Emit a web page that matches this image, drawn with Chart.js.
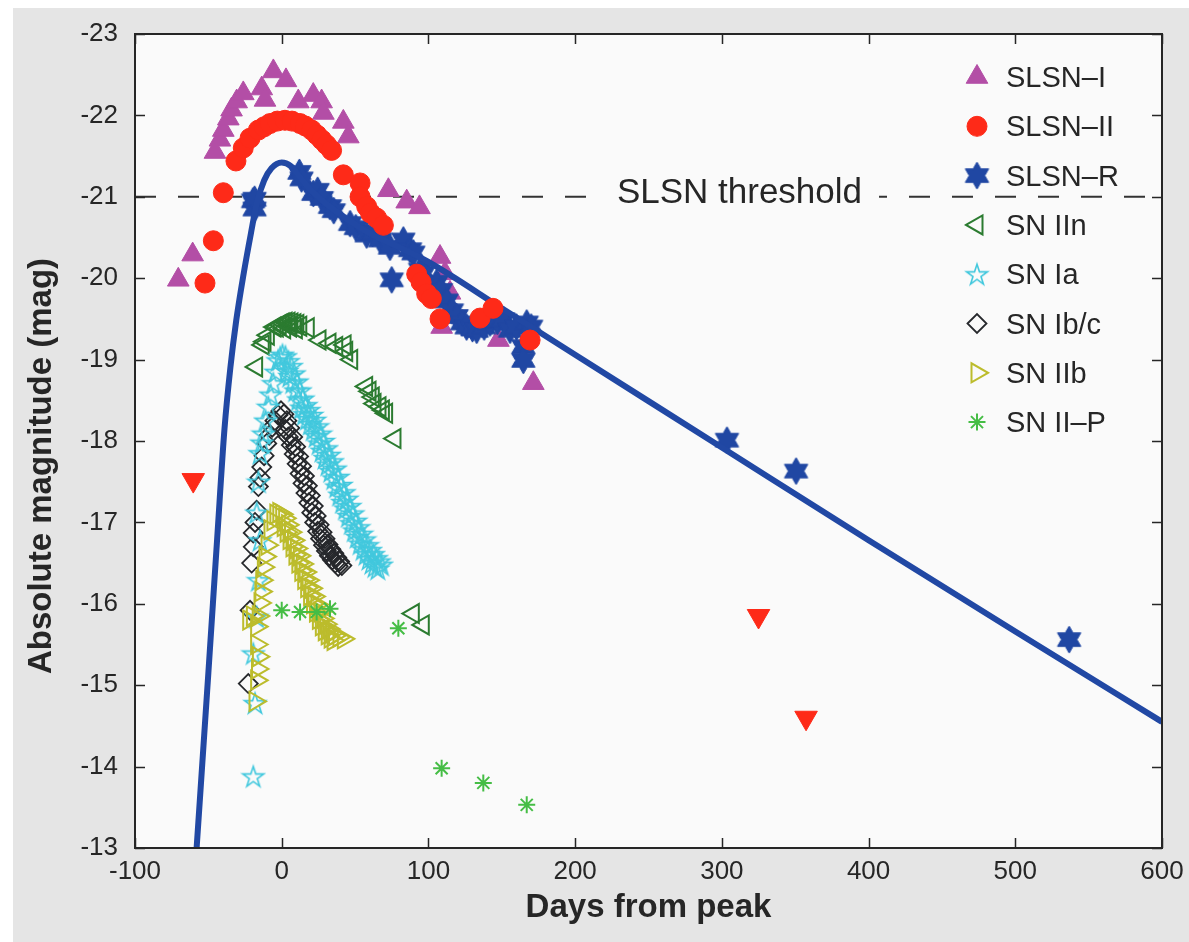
<!DOCTYPE html>
<html>
<head>
<meta charset="utf-8">
<script src="https://cdn.jsdelivr.net/npm/chart.js"></script>
<style>
  html, body { margin: 0; padding: 0; background: #ffffff; }
  #wrap { position: absolute; left: 13px; top: 8px; width: 1176px; height: 934px; background: #e5e5e5; }
  canvas { display: block; }
</style>
</head>
<body>
<div id="wrap"><canvas id="chart" width="1176" height="934"></canvas></div>
<script>
// axis ranges
const xMin = -100, xMax = 600, xStep = 100;
const yMin = -23, yMax = -13, yStep = 1;
const xTitle = 'Days from peak';
const yTitle = 'Absolute magnitude (mag)';

// SLSN-I (filled triangles)
const slsn1Days = [-70.5, -60.7, -45.5, -42.1, -39.8, -36.4, -34.2, -30.7, -26.2, -13.6, -11.4, -5.7, 2.9, 11.3,
  21.5, 27.2, 28.4, 42.0, 45.4, 72.7, 85.2, 93.9, 107.9, 109.0, 111.3, 114.7, 147.7, 171.5];
const slsn1Mags = [-19.98, -20.29, -21.55, -21.70, -21.82, -21.96, -22.07, -22.17, -22.27, -22.33, -22.19, -22.54, -22.43, -22.17,
  -22.25, -22.17, -22.03, -21.92, -21.74, -21.08, -20.94, -20.87, -20.26, -19.40, -20.06, -19.82, -19.24, -18.71];

// SLSN-II (filled circles)
const slsn2Days = [-52.3, -46.6, -39.8, -31.2, -26.2, -21.6, -15.9, -12.0, -8.0, -3.0, 2.2, 7.0, 12.5, 16.0, 20.4, 24.0,
  27.3, 30.5, 34.0, 42.0, 53.4, 53.4, 57.9, 60.5, 64.7, 69.3, 92.0, 95.0, 98.8, 102.0, 107.9, 135.2, 144.0, 169.3];
const slsn2Mags = [-19.94, -20.46, -21.05, -21.44, -21.60, -21.72, -21.82, -21.86, -21.90, -21.93, -21.94, -21.93, -21.90, -21.87, -21.82, -21.76,
  -21.70, -21.64, -21.57, -21.27, -21.17, -21.00, -20.88, -20.80, -20.74, -20.65, -20.05, -19.95, -19.81, -19.75, -19.50, -19.51, -19.63, -19.24];

// SLSN-II upper limits (down triangles)
const limitDays = [-60.3, 325.0, 357.4];
const limitMags = [-17.52, -15.85, -14.60];

// SLSN-R (filled hexagrams)
const slsnRDays = [-19.5, -18.5, -18.5, 12.0, 13.5, 21.5, 24.5, 27.3, 32.9, 35.5, 46.6, 50.5, 57.9, 62.0, 67.0, 73.8, 75.0,
  82.9, 87.5, 89.7, 94.3, 96.5, 105.6, 108.5, 112.4, 116.0, 119.2, 123.0, 126.0, 130.0, 132.9, 138.0, 142.0, 147.0,
  151.0, 155.6, 160.0, 164.7, 164.7, 167.0, 170.0, 303.5, 350.6, 536.7];
const slsnRMags = [-20.95, -20.85, -20.97, -21.30, -21.22, -21.04, -21.08, -20.98, -20.88, -20.83, -20.67, -20.62, -20.53, -20.55, -20.47, -20.38, -19.98,
  -20.47, -20.35, -20.31, -20.10, -20.06, -19.95, -19.85, -19.72, -19.60, -19.53, -19.45, -19.40, -19.38, -19.36, -19.40, -19.45, -19.47,
  -19.49, -19.36, -19.40, -19.16, -18.99, -19.45, -19.40, -18.01, -17.63, -15.56];

// SLSN-R model light curve (solid blue line)
const modelDays = [-58, -50, -44, -39, -35, -31, -26, -21, -17, -12, -7, 0, 6, 12, 20, 30, 45, 60, 80, 100, 150, 200, 300, 400, 500, 600];
const modelMags = [-13.0, -15.15, -16.8, -18.15, -18.9, -19.48, -20.05, -20.55, -20.92, -21.2, -21.35, -21.42, -21.38, -21.25, -21.08,
  -20.92, -20.72, -20.55, -20.38, -20.2, -19.63, -19.06, -17.92, -16.78, -15.66, -14.55];

// SN IIn (open left triangles)
const snIInDays = [-17.1, -12.6, -11.4, -9.1, -4.6, -3.0, -1.0, 1.0, 2.0, 3.0, 5.0, 6.0, 7.0, 9.0, 10.0, 11.0, 13.0, 18.1,
  26.1, 32.9, 37.5, 43.2, 44.3, 47.7, 57.9, 60.2, 62.4, 63.6, 67.0, 69.3, 71.5, 77.2, 89.7, 96.5];
const snIInMags = [-18.91, -19.18, -19.22, -19.30, -19.40, -19.40, -19.43, -19.45, -19.38, -19.46, -19.46, -19.40, -19.45, -19.44, -19.38, -19.43, -19.41, -19.39,
  -19.24, -19.20, -19.16, -19.18, -19.10, -19.00, -18.67, -18.61, -18.54, -18.46, -18.42, -18.38, -18.34, -18.03, -15.88, -15.74];

// SN Ia (open pentagrams)
const snIaDays = [-19.4, -18.2, -19.4, -17.1, -15.9, -14.8, -17.1, -15.9, -14.8, -13.6, -12.5, -11.0, -9.1, -7.5, -5.7, -4.0, -2.5, -1.0, 0.5,
  2.5, 4.5, 6.5, 8.5, 10.5, 12.5, 14.5, 16.5, 18.5, 20.5, 22.5, 24.5, 26.5, 28.5, 30.5, 32.5, 34.5, 36.5, 38.5, 40.5,
  42.5, 44.5, 46.5, 48.5, 50.5, 52.5, 54.5, 56.5, 58.5, 60.5, 62.5, 64.5, 66.5, 68.0,
  3.5, 5.5, 7.5, 9.5, 11.5, 13.5, 15.5, 17.5, 19.5, 21.5, 23.5, 25.5, 27.5, 29.5, 31.5, 33.5, 35.5, 37.5, 39.5, 41.5,
  43.5, 45.5, 47.5, 49.5, 51.5, 53.5, 55.5, 57.5, 59.5, 61.5, 63.5, 65.5];
const snIaMags = [-13.88, -14.78, -15.39, -15.84, -16.29, -16.78, -17.12, -17.50, -17.85, -17.98, -18.09, -18.25, -18.42, -18.57, -18.71, -18.85, -18.99, -19.03, -19.06,
  -19.04, -18.98, -18.92, -18.83, -18.73, -18.62, -18.52, -18.44, -18.38, -18.32, -18.26, -18.18, -18.09, -18.00, -17.91, -17.83, -17.75, -17.66, -17.56, -17.46,
  -17.37, -17.29, -17.20, -17.11, -17.02, -16.94, -16.86, -16.79, -16.72, -16.66, -16.61, -16.56, -16.52, -16.48,
  -18.86, -18.80, -18.72, -18.62, -18.51, -18.41, -18.33, -18.27, -18.21, -18.14, -18.06, -17.97, -17.88, -17.79, -17.71, -17.63, -17.54, -17.44, -17.34, -17.25,
  -17.17, -17.08, -16.99, -16.90, -16.82, -16.74, -16.67, -16.61, -16.55, -16.50, -16.46, -16.43];

// SN Ib/c (open diamonds)
const snIbcDays = [-22.8, -21.6, -20.5, -19.4, -19.4, -18.2, -17.1, -15.9, -14.8, -13.6, -12.0, -10.2, -8.5, -6.5, -4.6, -2.5, -0.5,
  1.5, 3.5, 5.5, 7.5, 9.5, 11.5, 13.5, 15.5, 17.5, 19.5, 21.5, 23.5, 25.5, 27.5, 29.5, 31.5, 33.5, 35.5, 37.5, 39.5, 41.0,
  2.5, 4.5, 6.5, 8.5, 10.5, 12.5, 14.5, 16.5, 18.5, 20.5, 22.5, 24.5, 26.5, 28.5, 30.5, 32.5, 34.5, 36.5, 38.5];
const snIbcMags = [-15.02, -15.92, -16.50, -16.70, -16.87, -17.00, -17.15, -17.44, -17.55, -17.68, -17.82, -17.97, -18.07, -18.17, -18.25, -18.32, -18.37,
  -18.33, -18.25, -18.16, -18.05, -17.93, -17.81, -17.69, -17.57, -17.45, -17.33, -17.20, -17.08, -16.97, -16.88, -16.80, -16.73, -16.67, -16.62, -16.57, -16.52, -16.47,
  -18.14, -18.05, -17.95, -17.84, -17.72, -17.60, -17.48, -17.36, -17.24, -17.12, -17.00, -16.89, -16.80, -16.72, -16.65, -16.59, -16.54, -16.50, -16.46];

// SN IIb (open right triangles)
const snIIbDays = [-22.5, -20.0, -18.2, -17.1, -16.5, -15.9, -17.1, -17.1, -16.0, -14.8, -14.2, -13.6, -12.5, -11.4, -10.0, -8.0, -6.0, -4.0,
  -2.0, 0.0, 2.0, 4.0, 6.0, 8.0, 10.0, 12.0, 14.0, 16.0, 18.0, 20.0, 22.0, 24.0, 26.0, 28.0, 30.0, 32.0, 34.0, 36.0, 39.0, 42.0,
  1.0, 3.0, 5.0, 7.0, 9.0, 11.0, 13.0, 15.0, 17.0, 19.0, 21.0, 23.0, 25.0, 27.0, 29.0, 31.0, 33.0, 35.0];
const snIIbMags = [-15.80, -15.85, -14.80, -15.06, -15.20, -15.35, -15.50, -15.72, -15.85, -16.01, -16.15, -16.29, -16.45, -16.58, -16.72, -16.91, -17.02, -17.10,
  -17.12, -17.10, -17.05, -16.97, -16.88, -16.78, -16.68, -16.59, -16.49, -16.39, -16.29, -16.19, -16.09, -15.99, -15.90, -15.82, -15.75, -15.69, -15.64, -15.61, -15.59, -15.57,
  -16.95, -16.88, -16.79, -16.70, -16.60, -16.50, -16.40, -16.30, -16.20, -16.10, -16.00, -15.90, -15.81, -15.73, -15.67, -15.62, -15.58, -15.55];

// SN II-P (asterisks)
const snIIPDays = [0.0, 12.5, 23.8, 32.9, 79.5, 109.0, 137.4, 167.0];
const snIIPMags = [-15.92, -15.90, -15.90, -15.94, -15.70, -13.98, -13.80, -13.53];

// SLSN threshold
const thresholdMag = -21;
const thresholdText = 'SLSN threshold';
const thresholdTextDay = 312;

const FONT = "'Liberation Sans', Arial, Helvetica, sans-serif";
const TEXT = '#262626';

function pts(days, mags) {
  return days.map((d, i) => ({ x: d, y: mags[i] }));
}

function hexagram(color, r) {
  const c = document.createElement('canvas');
  const s = Math.ceil(2 * r + 4);
  c.width = s; c.height = s;
  const g = c.getContext('2d');
  g.fillStyle = color;
  g.strokeStyle = color;
  g.lineWidth = 1;
  g.beginPath();
  for (let k = 0; k < 12; k++) {
    const a = -Math.PI / 2 + k * Math.PI / 6;
    const rr = k % 2 === 0 ? r : r / Math.sqrt(3);
    g.lineTo(s / 2 + rr * Math.cos(a), s / 2 + rr * Math.sin(a));
  }
  g.closePath();
  g.fill();
  g.stroke();
  return c;
}

function pentagram(color, r, lw) {
  const c = document.createElement('canvas');
  const s = Math.ceil(2 * r + 4);
  c.width = s; c.height = s;
  const g = c.getContext('2d');
  g.strokeStyle = color;
  g.lineWidth = lw;
  g.beginPath();
  for (let k = 0; k < 10; k++) {
    const a = -Math.PI / 2 + k * Math.PI / 5;
    const rr = k % 2 === 0 ? r : r * 0.382;
    g.lineTo(s / 2 + rr * Math.cos(a), s / 2 + 1 + rr * Math.sin(a));
  }
  g.closePath();
  g.stroke();
  return c;
}

const CLEAR = 'rgba(0,0,0,0)';

const datasets = [
  {
    label: 'SLSN\u2013I', data: pts(slsn1Days, slsn1Mags), order: 4,
    pointStyle: 'triangle', pointRadius: 12.5, pointRotation: 0,
    backgroundColor: '#b34ea6', borderColor: '#b34ea6', borderWidth: 1
  },
  {
    label: 'SLSN\u2013II', data: pts(slsn2Days, slsn2Mags), order: 1,
    pointStyle: 'circle', pointRadius: 10,
    backgroundColor: '#fe2a18', borderColor: '#fe2a18', borderWidth: 1
  },
  {
    label: 'SLSN\u2013R', data: pts(slsnRDays, slsnRMags), order: 3,
    pointStyle: hexagram('#2047a3', 13.5), pointRadius: 13,
    backgroundColor: '#2047a3', borderColor: '#2047a3', borderWidth: 1
  },
  {
    label: 'SN IIn', data: pts(snIInDays, snIInMags), order: 10,
    pointStyle: 'triangle', pointRotation: -90, pointRadius: 11,
    backgroundColor: CLEAR, borderColor: '#2b7b30', borderWidth: 2
  },
  {
    label: 'SN Ia', data: pts(snIaDays, snIaMags), order: 8,
    pointStyle: pentagram('#42c8dd', 11, 1.6), pointRadius: 11,
    backgroundColor: CLEAR, borderColor: '#42c8dd', borderWidth: 1.6
  },
  {
    label: 'SN Ib/c', data: pts(snIbcDays, snIbcMags), order: 9,
    pointStyle: 'rectRot', pointRadius: 9.5,
    backgroundColor: CLEAR, borderColor: '#26282c', borderWidth: 1.8
  },
  {
    label: 'SN IIb', data: pts(snIIbDays, snIIbMags), order: 7,
    pointStyle: 'triangle', pointRotation: 90, pointRadius: 11,
    backgroundColor: CLEAR, borderColor: '#bcbc2c', borderWidth: 2
  },
  {
    label: 'SN II\u2013P', data: pts(snIIPDays, snIIPMags), order: 6,
    pointStyle: 'star', pointRadius: 8.5,
    backgroundColor: CLEAR, borderColor: '#45bd45', borderWidth: 2
  },
  {
    label: 'model', inLegend: false, data: pts(modelDays, modelMags), order: 2,
    showLine: true, pointRadius: 0, borderColor: '#2148a4', borderWidth: 6,
    cubicInterpolationMode: 'monotone', fill: false
  },
  {
    label: 'limits', inLegend: false, data: pts(limitDays, limitMags), order: 5,
    pointStyle: 'triangle', pointRotation: 180, pointRadius: 13,
    backgroundColor: '#fe2a18', borderColor: '#fe2a18', borderWidth: 1
  },
  {
    label: 'threshold', inLegend: false, data: [{ x: xMin, y: thresholdMag }, { x: xMax, y: thresholdMag }], order: 11,
    showLine: true, pointRadius: 0, borderColor: '#333333', borderWidth: 2, borderDash: [21, 22], fill: false
  }
];

// plot background, frame with inward ticks, y title, threshold label and legend
const matlabLook = {
  id: 'matlabLook',
  beforeDraw(chart) {
    const { ctx, chartArea: a } = chart;
    ctx.save();
    ctx.fillStyle = '#fafafa';
    ctx.fillRect(a.left, a.top, a.right - a.left, a.bottom - a.top);
    ctx.restore();
  },
  afterDatasetsDraw(chart) {
    const { ctx, scales } = chart;
    // threshold label over the dashed line
    ctx.save();
    ctx.font = '35px ' + FONT;
    const tx = scales.x.getPixelForValue(thresholdTextDay);
    const ty = scales.y.getPixelForValue(thresholdMag);
    const tw = ctx.measureText(thresholdText).width;
    ctx.fillStyle = '#fafafa';
    ctx.fillRect(tx - tw / 2 - 17, ty - 6, tw + 34, 12);
    ctx.fillStyle = TEXT;
    ctx.textAlign = 'center';
    ctx.textBaseline = 'middle';
    ctx.fillText(thresholdText, tx, ty - 3);
    ctx.restore();

    // legend
    const a = chart.chartArea;
    const mx = a.right - 185, lx = a.right - 156;
    let ly = a.top + 43;
    chart.data.datasets.forEach((ds) => {
      if (ds.inLegend === false) return;
      ctx.save();
      ctx.fillStyle = ds.backgroundColor;
      ctx.strokeStyle = ds.borderColor;
      ctx.lineWidth = ds.borderWidth;
      Chart.helpers.drawPoint(ctx, {
        pointStyle: ds.pointStyle, rotation: ds.pointRotation || 0,
        radius: ds.pointRadius, borderWidth: ds.borderWidth
      }, mx, ly);
      ctx.fillStyle = TEXT;
      ctx.font = '29px ' + FONT;
      ctx.textAlign = 'left';
      ctx.textBaseline = 'middle';
      ctx.fillText(ds.label, lx, ly + 2);
      ctx.restore();
      ly += 49.3;
    });
  },
  afterDraw(chart) {
    const { ctx, chartArea: a, scales } = chart;
    const tl = 10;
    ctx.save();
    ctx.strokeStyle = TEXT;
    ctx.lineWidth = 1.5;
    ctx.beginPath();
    scales.x.ticks.forEach((t) => {
      const px = Math.round(scales.x.getPixelForValue(t.value)) + 0.5;
      ctx.moveTo(px, a.bottom); ctx.lineTo(px, a.bottom - tl);
      ctx.moveTo(px, a.top); ctx.lineTo(px, a.top + tl);
    });
    scales.y.ticks.forEach((t) => {
      const py = Math.round(scales.y.getPixelForValue(t.value)) + 0.5;
      ctx.moveTo(a.left, py); ctx.lineTo(a.left + tl, py);
      ctx.moveTo(a.right, py); ctx.lineTo(a.right - tl, py);
    });
    ctx.stroke();
    ctx.lineWidth = 2;
    ctx.strokeRect(a.left, a.top, a.right - a.left, a.bottom - a.top);

    // y axis title, rotated
    ctx.translate(29, (a.top + a.bottom) / 2 + 25);
    ctx.rotate(-Math.PI / 2);
    ctx.fillStyle = TEXT;
    ctx.font = 'bold 33px ' + FONT;
    ctx.textAlign = 'center';
    ctx.textBaseline = 'middle';
    ctx.fillText(yTitle, 0, 0);
    ctx.restore();
  }
};

new Chart(document.getElementById('chart'), {
  type: 'scatter',
  data: { datasets: datasets },
  options: {
    responsive: false,
    animation: false,
    devicePixelRatio: 1,
    events: [],
    layout: { padding: { top: 26, right: 27, left: 0, bottom: 0 } },
    plugins: {
      legend: { display: false },
      tooltip: { enabled: false }
    },
    scales: {
      x: {
        type: 'linear', min: xMin, max: xMax,
        afterFit: (scale) => { scale.height = 94; },
        grid: { display: false }, border: { display: false },
        ticks: { stepSize: xStep, color: TEXT, padding: 0, maxRotation: 0, font: { family: FONT, size: 26 } },
        title: {
          display: true, text: xTitle, color: TEXT,
          font: { family: FONT, size: 33, weight: 'bold' }, padding: { top: 0, bottom: 14 }
        }
      },
      y: {
        type: 'linear', min: yMin, max: yMax, reverse: true,
        afterFit: (scale) => { scale.width = 122; },
        grid: { display: false }, border: { display: false },
        ticks: { stepSize: yStep, color: TEXT, padding: 9, font: { family: FONT, size: 26 } },
        title: { display: false }
      }
    }
  },
  plugins: [matlabLook]
});
</script>
</body>
</html>
